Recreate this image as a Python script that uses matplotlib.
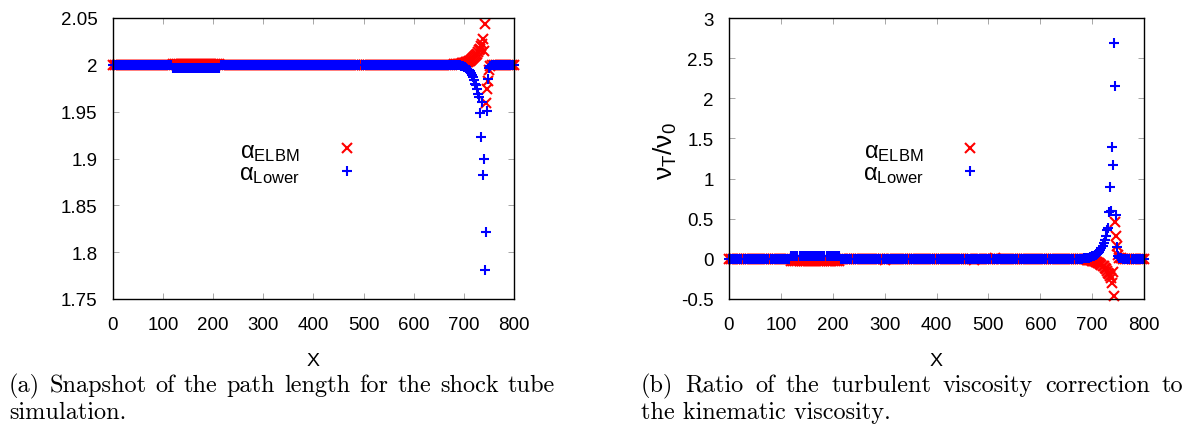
import numpy as np
import matplotlib
matplotlib.use("Agg")
import matplotlib.pyplot as plt
from matplotlib.ticker import FormatStrFormatter

plt.rcParams['font.family'] = ['Liberation Sans', 'DejaVu Sans']
plt.rcParams['mathtext.fontset'] = 'custom'
plt.rcParams['mathtext.rm'] = 'Liberation Sans'
plt.rcParams['mathtext.it'] = 'Liberation Sans:italic'
plt.rcParams['mathtext.sf'] = 'Liberation Sans'
plt.rcParams['axes.unicode_minus'] = False

# lattice positions (every 4 cells, every 2 cells around the shock)
x_pos = np.r_[0:690:4, 690:751:2, 752:801:4]

# (a) path length alpha
alpha_elbm = [
    # 0 - 116
    2.0, 2.0, 2.0, 2.0, 2.0, 2.0, 2.0, 2.0, 2.0, 2.0, 2.0, 2.0, 2.0, 2.0, 2.0,
    2.0, 2.0, 2.0, 2.0, 2.0, 2.0, 2.0, 2.0, 2.0, 2.0, 2.0, 2.0, 2.0, 2.0, 2.0,
    # 120 - 212
    2.001, 2.001, 2.001, 2.001, 2.001, 2.001, 2.001, 2.001, 2.001, 2.001, 2.001, 2.001,
    2.001, 2.001, 2.001, 2.001, 2.001, 2.001, 2.001, 2.001, 2.001, 2.001, 2.001, 2.001,
    # 216 - 688
    2.0, 2.0, 2.0, 2.0, 2.0, 2.0, 2.0, 2.0, 2.0, 2.0, 2.0, 2.0, 2.0, 2.0, 2.0, 2.0, 2.0,
    2.0, 2.0, 2.0, 2.0, 1.9997, 2.0, 2.0, 2.0, 2.0, 2.0, 2.0, 2.0, 2.0, 2.0, 2.0, 2.0, 2.0,
    2.0, 2.0, 2.0, 2.0, 2.0, 2.0, 2.0, 2.0, 2.0, 2.0, 2.0, 2.0, 2.0, 2.0, 2.0, 2.0, 2.0,
    2.0, 2.0, 2.0, 2.0, 2.0, 2.0, 2.0, 2.0, 2.0, 2.0, 2.0, 2.0, 2.0, 1.9997, 2.0, 2.0, 2.0,
    2.0, 2.0, 2.0, 2.0, 2.0, 2.0, 2.0003, 2.0, 2.0, 2.0, 2.0, 2.0, 2.0, 2.0, 2.0, 2.0, 2.0,
    2.0, 2.0, 2.0, 2.0, 2.0, 2.0, 2.0, 2.0, 2.0, 2.0, 2.0, 2.0, 2.0, 2.0, 2.0, 2.0, 2.0,
    2.0, 2.0, 2.0, 2.0, 2.0, 2.0, 2.0, 2.0, 2.0, 2.0, 2.0, 2.0, 2.0, 2.0, 2.0004, 2.0005, 2.0007,
    # 690 - 750
    2.0008, 2.001, 2.0012, 2.0015, 2.0018, 2.002, 2.0024, 2.0027, 2.003, 2.0035, 2.004,
    2.0045, 2.005, 2.006, 2.007, 2.008, 2.009, 2.010, 2.012, 2.014, 2.016, 2.017,
    2.020, 2.022, 2.028, 2.015, 2.044, 1.959, 1.974, 1.983, 1.995,
    # 752 - 800
    1.999, 1.9995, 2.0, 2.0, 2.0, 2.0, 2.0, 2.0, 2.0, 2.0, 2.0, 2.0, 2.0,
]
alpha_lower = [
    2.0, 2.0, 2.0, 2.0, 2.0, 2.0, 2.0, 2.0, 2.0, 2.0, 2.0, 2.0, 2.0, 2.0, 2.0,
    2.0, 2.0, 2.0, 2.0, 2.0, 2.0, 2.0, 2.0, 2.0, 2.0, 2.0, 2.0, 2.0, 2.0, 2.0,
    1.997, 1.997, 1.997, 1.997, 1.997, 1.997, 1.997, 1.997, 1.997, 1.997, 1.997, 1.997,
    1.997, 1.997, 1.997, 1.997, 1.997, 1.997, 1.997, 1.997, 1.997, 1.997, 1.997, 1.997,
    2.0, 2.0, 2.0, 2.0, 2.0, 2.0, 2.0, 2.0, 2.0, 2.0, 2.0, 2.0, 2.0, 2.0, 2.0, 2.0, 2.0,
    2.0, 2.0, 2.0, 2.0, 2.0, 2.0, 2.0, 2.0, 2.0, 2.0, 2.0, 2.0, 2.0, 2.0, 2.0, 2.0, 2.0,
    2.0, 2.0, 2.0, 2.0, 2.0, 2.0, 2.0, 2.0, 2.0, 2.0, 2.0, 2.0, 2.0, 2.0, 2.0, 2.0, 2.0,
    2.0, 2.0, 2.0, 2.0, 2.0, 2.0, 2.0, 2.0, 2.0, 2.0, 2.0, 2.0, 2.0, 2.0, 2.0, 2.0, 2.0,
    2.0, 2.0, 2.0, 2.0, 2.0, 2.0, 2.0, 2.0, 2.0, 2.0, 2.0, 2.0, 2.0, 2.0, 2.0, 2.0, 2.0,
    2.0, 2.0, 2.0, 2.0, 2.0, 2.0, 2.0, 2.0, 2.0, 2.0, 2.0, 2.0, 2.0, 2.0, 2.0, 2.0, 2.0,
    2.0, 2.0, 2.0, 2.0, 2.0, 2.0, 2.0, 2.0, 2.0, 2.0, 2.0, 2.0, 2.0, 2.0, 1.9998, 1.9997, 1.9995,
    1.9995, 1.9993, 1.999, 1.9988, 1.9985, 1.998, 1.9975, 1.997, 1.996, 1.995, 1.994,
    1.993, 1.991, 1.989, 1.987, 1.984, 1.980, 1.978, 1.974, 1.969, 1.966, 1.949,
    1.923, 1.960, 1.882, 1.899, 1.781, 1.821, 1.951, 1.985, 1.997,
    1.999, 1.9995, 2.0, 2.0, 2.0, 2.0, 2.0, 2.0, 2.0, 2.0, 2.0, 2.0, 2.0,
]

# (b) turbulent viscosity ratio nu_T / nu_0
ratio_elbm = [
    0.0, 0.0, 0.0, 0.0, 0.0, 0.0, 0.0, 0.0, 0.0, 0.0, 0.0, 0.0, 0.0, 0.0, 0.0,
    0.0, 0.0, 0.0, 0.0, 0.0, 0.0, 0.0, 0.0, 0.0, 0.0, 0.0, 0.0, 0.0, 0.0, 0.0,
    -0.03, -0.03, -0.03, -0.03, -0.03, -0.03, -0.03, -0.03, -0.03, -0.03, -0.03, -0.03,
    -0.03, -0.03, -0.03, -0.03, -0.03, -0.03, -0.03, -0.03, -0.03, -0.03, -0.03, -0.03,
    0.0, 0.0, 0.0, 0.0, 0.0, 0.0, 0.0, 0.0, 0.0, 0.0, 0.0, 0.0, 0.0, 0.0, 0.0, 0.0, 0.0,
    0.0, 0.0, 0.0, 0.0, -0.01, 0.0, 0.0, 0.0, 0.0, 0.0, 0.0, 0.0, 0.0, 0.0, 0.0, 0.0, 0.0,
    0.0, 0.0, 0.0, 0.0, 0.0, 0.0, 0.0, 0.0, 0.0, 0.0, 0.0, 0.0, 0.0, 0.0, 0.0, 0.0, 0.0,
    0.0, 0.0, 0.0, 0.0, 0.0, 0.0, 0.0, 0.0, 0.0, 0.0, 0.0, 0.0, 0.0, -0.01, 0.0, 0.0, 0.0,
    0.0, 0.0, 0.0, 0.0, 0.0, 0.0, 0.01, 0.0, 0.0, 0.0, 0.0, 0.0, 0.0, 0.0, 0.0, 0.0, 0.0,
    0.0, 0.0, 0.0, 0.0, 0.0, 0.0, 0.0, 0.0, 0.0, 0.0, 0.0, 0.0, 0.0, 0.0, 0.0, 0.0, 0.0,
    0.0, 0.0, 0.0, 0.0, 0.0, 0.0, 0.0, 0.0, 0.0, 0.0, 0.0, 0.0, 0.0, 0.0, -0.004, -0.005, -0.008,
    -0.009, -0.01, -0.012, -0.015, -0.018, -0.021, -0.024, -0.027, -0.031, -0.036, -0.042,
    -0.048, -0.055, -0.065, -0.075, -0.085, -0.095, -0.11, -0.13, -0.15, -0.17, -0.19,
    -0.21, -0.24, -0.30, -0.167, -0.459, 0.463, 0.29, 0.157, 0.05,
    0.01, 0.005, 0.0, 0.0, 0.0, 0.0, 0.0, 0.0, 0.0, 0.0, 0.0, 0.0, 0.0,
]
ratio_lower = [
    0.0, 0.0, 0.0, 0.0, 0.0, 0.0, 0.0, 0.0, 0.0, 0.0, 0.0, 0.0, 0.0, 0.0, 0.0,
    0.0, 0.0, 0.0, 0.0, 0.0, 0.0, 0.0, 0.0, 0.0, 0.0, 0.0, 0.0, 0.0, 0.0, 0.0,
    0.04, 0.04, 0.04, 0.04, 0.04, 0.04, 0.04, 0.04, 0.04, 0.04, 0.04, 0.04,
    0.04, 0.04, 0.04, 0.04, 0.04, 0.04, 0.04, 0.04, 0.04, 0.04, 0.04, 0.04,
    0.0, 0.0, 0.0, 0.0, 0.0, 0.0, 0.0, 0.0, 0.0, 0.0, 0.0, 0.0, 0.0, 0.0, 0.0, 0.0, 0.0,
    0.0, 0.0, 0.0, 0.0, 0.0, 0.0, 0.0, 0.0, 0.0, 0.0, 0.0, 0.0, 0.0, 0.0, 0.0, 0.0, 0.0,
    0.0, 0.0, 0.0, 0.0, 0.0, 0.0, 0.0, 0.0, 0.0, 0.0, 0.0, 0.0, 0.0, 0.0, 0.0, 0.0, 0.0,
    0.0, 0.0, 0.0, 0.0, 0.0, 0.0, 0.0, 0.0, 0.0, 0.0, 0.0, 0.0, 0.0, 0.0, 0.0, 0.0, 0.0,
    0.0, 0.0, 0.0, 0.0, 0.0, 0.0, 0.0, 0.0, 0.0, 0.0, 0.0, 0.0, 0.0, 0.0, 0.0, 0.0, 0.0,
    0.0, 0.0, 0.0, 0.0, 0.0, 0.0, 0.0, 0.0, 0.0, 0.0, 0.0, 0.0, 0.0, 0.0, 0.0, 0.0, 0.0,
    0.0, 0.0, 0.0, 0.0, 0.0, 0.0, 0.0, 0.0, 0.0, 0.0, 0.0, 0.0, 0.0, 0.0, 0.004, 0.005, 0.008,
    0.01, 0.012, 0.015, 0.02, 0.025, 0.03, 0.035, 0.04, 0.045, 0.05, 0.06,
    0.075, 0.09, 0.11, 0.13, 0.16, 0.20, 0.24, 0.29, 0.36, 0.39, 0.58,
    0.891, 0.60, 1.393, 1.169, 2.689, 2.157, 0.546, 0.15, 0.04,
    0.01, 0.005, 0.0, 0.0, 0.0, 0.0, 0.0, 0.0, 0.0, 0.0, 0.0, 0.0, 0.0,
]

for s in (alpha_elbm, alpha_lower, ratio_elbm, ratio_lower):
    assert len(s) == len(x_pos), (len(s), len(x_pos))

lbl_elbm = r'$\mathrm{\alpha_{ELBM}}$'
lbl_lower = r'$\mathrm{\alpha_{Lower}}$'

W, H = 1195, 439
fig = plt.figure(figsize=(W / 100, H / 100), dpi=100)
ax1 = fig.add_axes([112.7 / W, 139 / H, 401.3 / W, 281 / H])
ax2 = fig.add_axes([729 / W, 139 / H, 415 / W, 281 / H])


def style(ax):
    for sp in ax.spines.values():
        sp.set_linestyle((0, (1, 1)))
        sp.set_linewidth(1.0)
        sp.set_color('black')
    ax.tick_params(direction='in', length=4, width=0.6, color='#999999',
                   top=True, right=True, labelsize=13.5, labelcolor='black')
    ax.tick_params(axis='x', pad=12)
    ax.tick_params(axis='y', pad=11)
    ax.set_xlim(0, 800)
    ax.set_xticks(range(0, 801, 100))
    ax.set_xlabel('X', fontsize=14, labelpad=14)
    ax.yaxis.set_major_formatter(FormatStrFormatter('%g'))


for ax, y_red, y_blue in [(ax1, alpha_elbm, alpha_lower), (ax2, ratio_elbm, ratio_lower)]:
    ax.plot(x_pos, y_red, ls='none', marker='x', ms=7.2, mew=1.5, color='#ff0000',
            label=lbl_elbm, clip_on=False)
    ax.plot(x_pos, y_blue, ls='none', marker='+', ms=7.8, mew=1.5, color='#0000ff',
            label=lbl_lower, clip_on=False)
    style(ax)

ax1.set_ylim(1.75, 2.05)
ax1.set_yticks([1.75, 1.8, 1.85, 1.9, 1.95, 2.0, 2.05])
ax2.set_ylim(-0.5, 3)
ax2.set_yticks([-0.5, 0, 0.5, 1, 1.5, 2, 2.5, 3])
ax2.set_ylabel(r'$\mathrm{\nu_T/\nu_0}$', fontsize=19)
ax2.yaxis.set_label_coords(-0.12, 0.53)

for ax, xr in [(ax1, 0.637), (ax2, 0.633)]:
    ax.legend(loc='upper right', bbox_to_anchor=(xr, 0.567), frameon=False,
              markerfirst=False, fontsize=17, handlelength=1.8, handletextpad=1.1,
              borderpad=0, borderaxespad=0, labelspacing=0.0)

# captions, first line justified to the column width like LaTeX does
cap = dict(family='cmr10', fontsize=17.5, va='baseline', ha='left')
renderer = fig.canvas.get_renderer()


def justified(x0, x1, y, line):
    words = line.split()
    widths = []
    for w in words:
        t = fig.text(0, 0, w, **cap)
        widths.append(t.get_window_extent(renderer).width)
        t.remove()
    gap = (x1 - x0 - sum(widths)) / (len(words) - 1)
    x = x0
    for w, wd in zip(words, widths):
        fig.text(x / W, 1 - y / H, w, **cap)
        x += wd + gap


justified(9, 555, 392, '(a) Snapshot of the path length for the shock tube')
fig.text(9 / W, 1 - 419 / H, 'simulation.', **cap)
justified(641, 1183, 392, '(b) Ratio of the turbulent viscosity correction to')
fig.text(641 / W, 1 - 419 / H, 'the kinematic viscosity.', **cap)

fig.savefig('out.png', dpi=100)
